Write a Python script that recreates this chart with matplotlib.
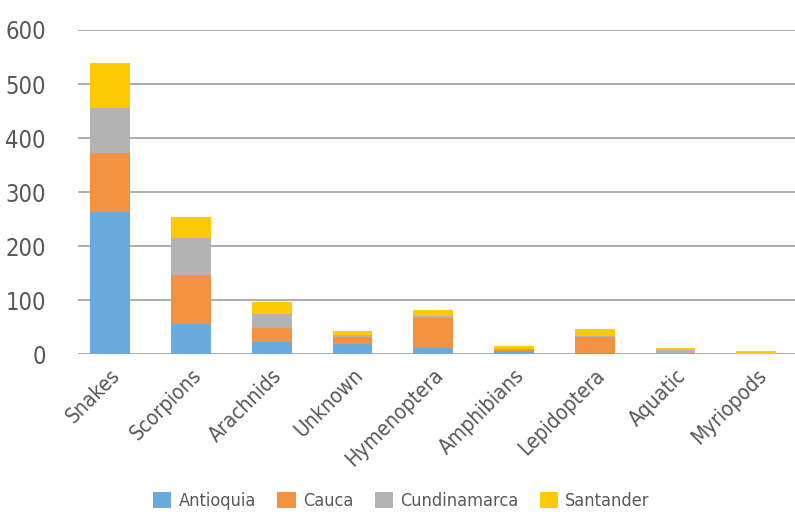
import matplotlib.pyplot as plt
import numpy as np

categories = ["Snakes", "Scorpions", "Arachnids", "Unknown", "Hymenoptera",
              "Amphibians", "Lepidoptera", "Aquatic", "Myriopods"]
antioquia = [263, 55, 22, 18, 12, 5, 3, 0, 0]
cauca = [109, 91, 26, 13, 54, 5, 28, 3, 0]
cundinamarca = [84, 69, 27, 4, 5, 0, 2, 4, 0]
santander = [82, 39, 22, 7, 10, 6, 14, 5, 5]

series = [
    ("Antioquia", antioquia, "#6aaadc"),
    ("Cauca", cauca, "#f39342"),
    ("Cundinamarca", cundinamarca, "#b3b3b3"),
    ("Santander", santander, "#ffc905"),
]

text_color = "#595959"
plt.rcParams["font.family"] = ["DejaVu Sans"]
plt.rcParams["font.stretch"] = "condensed"

fig = plt.figure(figsize=(7.95, 5.17), dpi=100)
ax = fig.add_axes([0.098, 0.315, 0.902, 0.627])

x = np.arange(len(categories))
bottom = np.zeros(len(categories))
for name, vals, color in series:
    ax.bar(x, vals, 0.49, bottom=bottom, color=color, label=name, zorder=3)
    bottom += np.array(vals)

ax.set_ylim(0, 600)
ax.set_xlim(-0.4, 8.48)
ax.set_yticks(range(0, 601, 100))
ax.yaxis.grid(True, color="#a6a6a6", linewidth=1.3, zorder=0)
for s in ax.spines.values():
    s.set_visible(False)
ax.tick_params(length=0, colors=text_color)
ax.tick_params(axis="y", labelsize=17, pad=23)
ax.tick_params(axis="x", labelsize=15, pad=8)
ax.set_xticks(x)
ax.set_xticklabels(categories, rotation=45, ha="right", rotation_mode="anchor")

fig.legend(loc="lower center", bbox_to_anchor=(0.505, -0.018), ncol=4, frameon=False,
           fontsize=13, labelcolor=text_color, handlelength=1.0, handleheight=1.0,
           columnspacing=1.2, handletextpad=0.4)

fig.savefig("out.png", dpi=100)
